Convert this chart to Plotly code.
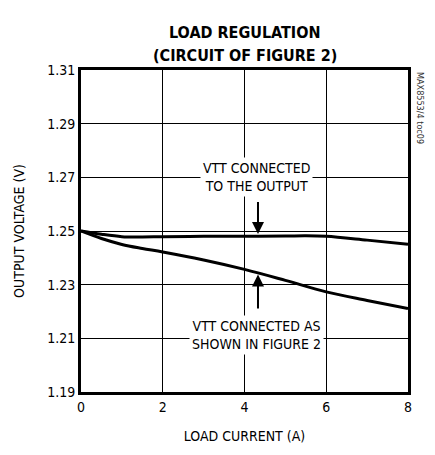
import plotly.graph_objects as go

load_current = [0, 0.5, 1, 1.5, 2, 3, 4, 5, 5.5, 6, 7, 8]
vtt_output = [1.25, 1.2488, 1.2479, 1.2478, 1.2479, 1.2480, 1.2480, 1.2481, 1.2482, 1.2480, 1.2466, 1.2451]
load_current2 = [0, 0.5, 1, 1.5, 2, 3, 4, 5, 6, 7, 8]
vtt_fig2 = [1.25, 1.2472, 1.2450, 1.2435, 1.2422, 1.2392, 1.2357, 1.2316, 1.2273, 1.2241, 1.2211]

x_ticks = [0, 2, 4, 6, 8]
y_ticks = [1.19, 1.21, 1.23, 1.25, 1.27, 1.29, 1.31]

FONT = "DejaVu Sans Condensed, Liberation Sans Narrow, Arial Narrow, sans-serif"

fig = go.Figure()
fig.add_trace(go.Scatter(x=load_current, y=vtt_output, mode="lines",
                         line=dict(color="black", width=3, shape="spline"), showlegend=False))
fig.add_trace(go.Scatter(x=load_current2, y=vtt_fig2, mode="lines",
                         line=dict(color="black", width=3, shape="spline"), showlegend=False))

fig.update_layout(
    width=435, height=455,
    margin=dict(l=81, r=27, t=70, b=60),
    paper_bgcolor="white", plot_bgcolor="white",
    font=dict(family=FONT, color="black", size=13),
    xaxis=dict(range=[0, 8], tickvals=x_ticks, ticktext=[str(v) for v in x_ticks],
               showgrid=True, gridcolor="black", gridwidth=1,
               showline=True, linecolor="black", linewidth=3, mirror=True,
               ticks="", zeroline=False, tickfont=dict(size=14),
               title=dict(text="LOAD CURRENT (A)", standoff=18, font=dict(size=14))),
    yaxis=dict(range=[1.19, 1.31], tickvals=y_ticks, ticktext=[f"{v:.2f}" for v in y_ticks],
               showgrid=True, gridcolor="black", gridwidth=1,
               showline=True, linecolor="black", linewidth=3, mirror=True,
               ticks="", zeroline=False, tickfont=dict(size=14),
               title=dict(text="OUTPUT VOLTAGE (V)", standoff=20, font=dict(size=14))),
)

# title lines
fig.add_annotation(x=0.5, y=1.1508, xref="paper", yref="paper", showarrow=False,
                   text="<b>LOAD REGULATION</b>", font=dict(size=16))
fig.add_annotation(x=0.5, y=1.08, xref="paper", yref="paper", showarrow=False,
                   text="<b>(CIRCUIT OF FIGURE 2)</b>", font=dict(size=16))

# text labels with white background
fig.add_annotation(x=4.3, y=1.2703, xref="x", yref="y", showarrow=False,
                   text="VTT CONNECTED<br>TO THE OUTPUT", bgcolor="white",
                   font=dict(size=14), borderpad=2)
fig.add_annotation(x=4.3, y=1.2113, xref="x", yref="y", showarrow=False,
                   text="VTT CONNECTED AS<br>SHOWN IN FIGURE 2", bgcolor="white",
                   font=dict(size=14), borderpad=2)
# arrows
fig.add_annotation(x=4.33, y=1.2489, ax=4.33, ay=1.2614, xref="x", yref="y",
                   axref="x", ayref="y", showarrow=True, arrowhead=2, arrowsize=1.2,
                   arrowwidth=2, arrowcolor="black", text="")
fig.add_annotation(x=4.33, y=1.2338, ax=4.33, ay=1.2206, xref="x", yref="y",
                   axref="x", ayref="y", showarrow=True, arrowhead=2, arrowsize=1.2,
                   arrowwidth=2, arrowcolor="black", text="")
# side label
fig.add_annotation(x=1.015, y=1.0, xref="paper", yref="paper", xanchor="left", yanchor="top",
                   text="MAX8553/4 toc09", textangle=90, showarrow=False,
                   font=dict(size=9, color="#333333"))

fig.write_html("out.html")
